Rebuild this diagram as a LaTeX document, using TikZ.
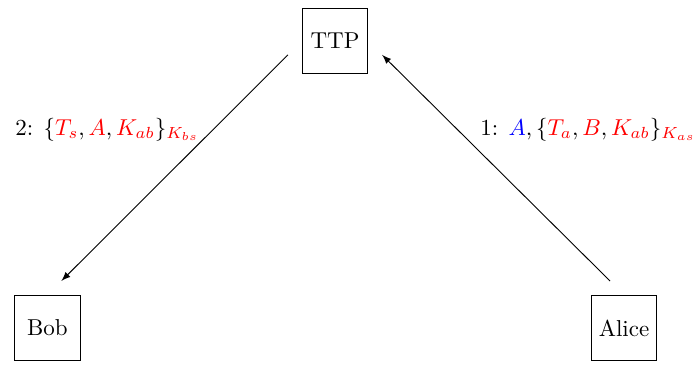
\documentclass[tikz,border=0pt]{standalone}
\usepackage{xcolor}
\begin{document}
\begin{tikzpicture}[x=0.4348pt,y=-0.4348pt,
  party/.style={draw, minimum size=1cm, inner sep=2pt},
  msg/.style={-latex, shorten >=0.3cm, shorten <=0.3cm},
  lbl/.style={anchor=base west, inner sep=0pt}]
\useasboundingbox (0,0) rectangle (694,367);
\node[party] (TTP) at (335,41) {TTP};
\node[party] (Bob) at (47.5,328) {Bob};
\node[party] (Alice) at (624,328) {Alice};
\draw[msg] (TTP.west) -- (Bob.north);
\draw[msg] (Alice.north) -- (TTP.east);
\node[lbl] (l2) at (15,135) {2: $\{\textcolor{red}{T_s}, \textcolor{red}{A}, \textcolor{red}{K_{ab}}\}_{\textcolor{red}{K_{bs}}}$};
\node[lbl] (l1) at (480,135) {1: $\textcolor{blue}{A}, \{\textcolor{red}{T_a}, \textcolor{red}{B}, \textcolor{red}{K_{ab}}\}_{\textcolor{red}{K_{as}}}$};
\end{tikzpicture}
\end{document}
